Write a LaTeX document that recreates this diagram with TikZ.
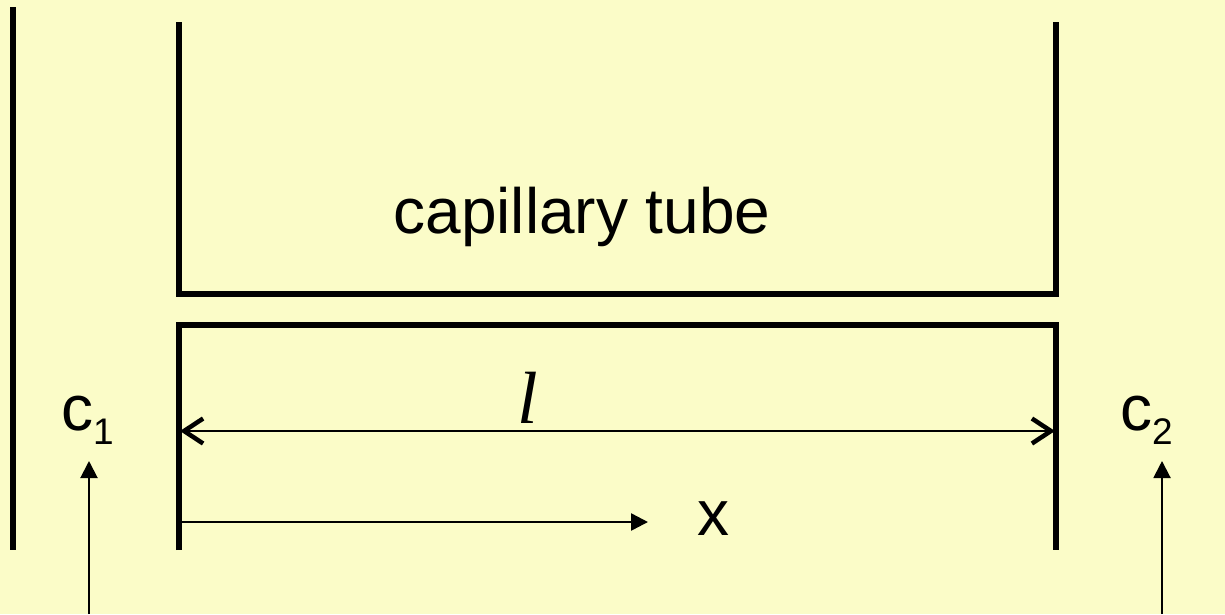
\documentclass[tikz,border=0pt]{standalone}
\usepackage{fontspec}
\setmainfont{Liberation Sans}
\newfontfamily\serifit{Liberation Serif}[ItalicFont=* Italic]
\usetikzlibrary{arrows.meta}
\definecolor{bg}{RGB}{251,252,200}
\begin{document}
\begin{tikzpicture}[x=1pt,y=-1pt,
  wall/.style={line width=5.5pt,line join=miter,line cap=butt},
  thinarrow/.style={line width=1.5pt},
  label/.style={inner sep=0pt,font=\fontsize{64}{64}\selectfont},
  filltip/.style={-{Triangle[length=17pt,width=17pt]}},
  barb/.style={Straight Barb[length=19pt,width=25pt,line width=4.5pt]}]
\fill[bg] (0,0) rectangle (1225,614);
\useasboundingbox (0,0) rectangle (1225,614);
% walls
\draw[wall] (13,7) -- (13,550);
\draw[wall] (179,22) -- (179,294) -- (1056,294) -- (1056,22);
\draw[wall] (179,550) -- (179,325) -- (1056,325) -- (1056,550);
% labels
\node[label,anchor=base] (cap) at (582,233) {capillary tube};
\node[inner sep=0pt,anchor=base,font=\fontsize{74}{74}\selectfont\serifit\itshape] (ell) at (528,423) {l};
\node[label,anchor=base] (xl) at (713,535) {x};
\node[label,anchor=base west] (c1) at (61,430) {c\raisebox{-14pt}{\fontsize{37}{37}\selectfont 1}};
\node[label,anchor=base west] (c2) at (1120,430) {c\raisebox{-14pt}{\fontsize{37}{37}\selectfont 2}};
% arrows
\coordinate (lA) at (180,431);
\coordinate (lB) at (1055,431);
\draw[thinarrow,{Straight Barb[length=19pt,width=25pt,line width=4.5pt]}-{Straight Barb[length=19pt,width=25pt,line width=4.5pt]}] (lA) -- (lB);
\coordinate (xA) at (179,522);
\coordinate (xB) at (648,522);
\draw[line width=2.5pt,filltip] (xA) -- (xB);
\coordinate (c1s) at (89,614);
\coordinate (c1e) at (89,461);
\draw[line width=2pt,filltip] (c1s) -- (c1e);
\coordinate (c2s) at (1162,614);
\coordinate (c2e) at (1162,461);
\draw[line width=2pt,filltip] (c2s) -- (c2e);
\end{tikzpicture}
\end{document}
